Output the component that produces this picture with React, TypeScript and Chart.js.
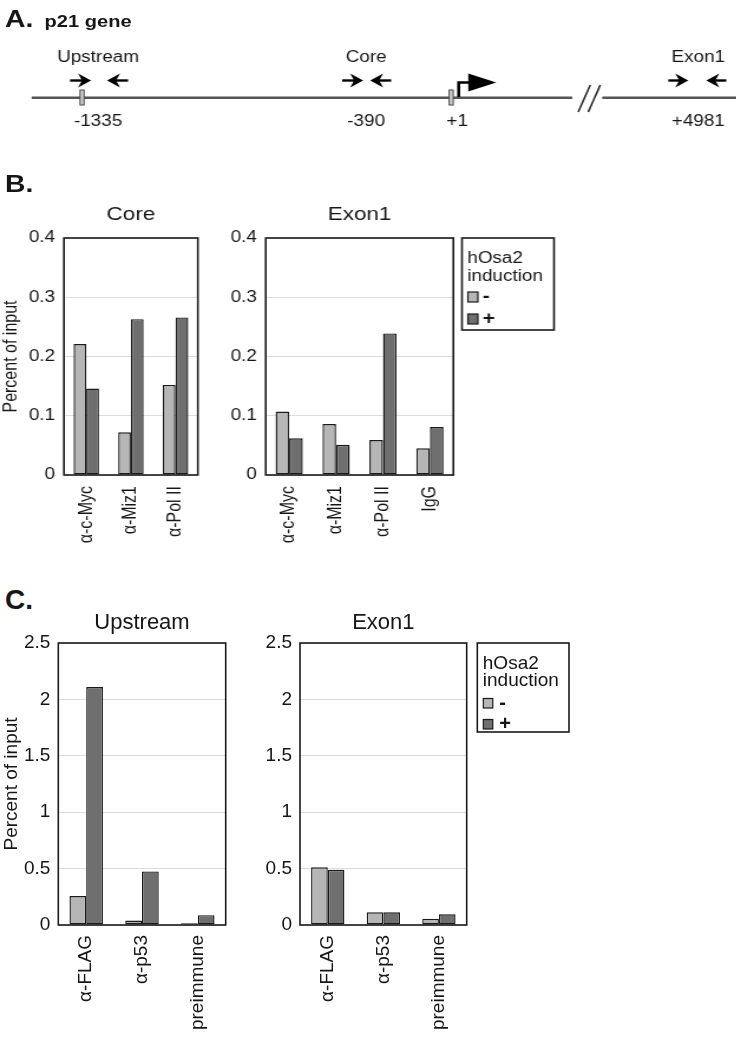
import React, { useEffect, useRef } from 'react';
import { Chart, registerables } from 'chart.js';

Chart.register(...registerables);

const FONT = '"Liberation Sans", Arial, Helvetica, sans-serif';
const TEXT = '#161616';
const GRID = '#dcdcdc';
const LIGHT = '#b6b6b6';
const DARK = '#6f6f6f';
const EDGE = '#1a1a1a';
const SX = 1.18; // panels A and B are horizontally stretched in the figure
const PAGE_W = 736;
const INNER_W = PAGE_W / SX;

// ---------- Panel A: p21 gene schematic ----------
const primerNames = ['Upstream', 'Core', 'Exon1'];
const primerCoords = ['-1335', '-390', '+4981'];
const tssLabel = '+1';

// ---------- Legend ----------
const legendTitle = ['hOsa2', 'induction'];
const legendSigns = ['-', '+'];

// ---------- Panel B data (percent of input) ----------
const bCoreCategories = ['α-c-Myc', 'α-Miz1', 'α-Pol II'];
const bCoreMinus = [0.221, 0.072, 0.152];
const bCorePlus = [0.146, 0.263, 0.266];

const bExon1Categories = ['α-c-Myc', 'α-Miz1', 'α-Pol II', 'IgG'];
const bExon1Minus = [0.107, 0.086, 0.059, 0.045];
const bExon1Plus = [0.062, 0.051, 0.239, 0.081];

// ---------- Panel C data ----------
const cCategories = ['α-FLAG', 'α-p53', 'preimmune'];
const cUpstreamMinus = [0.257, 0.04, 0.016];
const cUpstreamPlus = [2.11, 0.475, 0.087];
const cExon1Minus = [0.511, 0.112, 0.056];
const cExon1Plus = [0.489, 0.112, 0.095];

const bTicksMax = 0.4;
const bTickStep = 0.1;
const cTicksMax = 2.5;
const cTickStep = 0.5;

const framePlugin: any = {
  id: 'frame',
  afterDraw(chart: any, _args: any, o: any) {
    const { ctx, chartArea: a } = chart;
    ctx.save();
    ctx.strokeStyle = EDGE;
    ctx.lineWidth = 1.6;
    ctx.strokeRect(a.left, a.top, a.right - a.left, a.bottom - a.top);
    ctx.fillStyle = TEXT;
    ctx.font = `${o.titleSize}px ${FONT}`;
    ctx.textAlign = 'center';
    ctx.textBaseline = 'alphabetic';
    ctx.fillText(o.title, (a.left + a.right) / 2, a.top - o.titleGap);
    const L = o.legend;
    if (L) {
      const lx = a.right + L.gap;
      const ly = a.top;
      ctx.lineWidth = 1.6;
      ctx.strokeStyle = EDGE;
      ctx.strokeRect(lx, ly, L.w, L.h);
      ctx.fillStyle = TEXT;
      ctx.font = `${L.size}px ${FONT}`;
      ctx.textAlign = 'left';
      ctx.fillText(legendTitle[0], lx + L.textX, ly + L.base[0]);
      ctx.fillText(legendTitle[1], lx + L.textX, ly + L.base[1]);
      const ds = chart.data.datasets;
      L.swY.forEach((dy: number, i: number) => {
        ctx.fillStyle = ds[i].backgroundColor;
        ctx.fillRect(lx + L.swX, ly + dy, L.swW, L.swH);
        ctx.lineWidth = 1.2;
        ctx.strokeStyle = EDGE;
        ctx.strokeRect(lx + L.swX, ly + dy, L.swW, L.swH);
        ctx.fillStyle = TEXT;
        ctx.font = `bold ${L.signSize}px ${FONT}`;
        ctx.textBaseline = 'middle';
        ctx.fillText(ds[i].label, lx + L.signX, ly + dy + L.swH / 2 + 0.5);
        ctx.textBaseline = 'alphabetic';
      });
    }
    ctx.restore();
  },
};

type Spec = {
  id: string;
  labels: string[];
  minus: number[];
  plus: number[];
  yMax: number;
  yStep: number;
  left: number;
  top: number;
  width: number;
  height: number;
  padTop: number;
  padRight: number;
  yWidth: number;
  xHeight: number;
  yTitle: string | null;
  title: string;
  titleGap: number;
  titleSize: number;
  fontSize: number;
  tickPad: number;
  legend: any;
  catPct: number;
  xPad: number;
};

const legendB = {
  gap: 7.3, w: 78, h: 92, size: 16, textX: 4.5, base: [24.5, 42.5],
  swX: 5, swW: 8.5, swH: 10, swY: [54, 76], signX: 17.5, signSize: 18,
};
const legendC = {
  gap: 10.6, w: 91.7, h: 89, size: 19, textX: 5.5, base: [25.5, 43],
  swX: 6, swW: 9.5, swH: 9.5, swY: [55.5, 76.5], signX: 22, signSize: 20,
};

// Panel B lives in the horizontally stretched layer (unstretched units)
const specsB: Spec[] = [
  {
    id: 'bcore', labels: bCoreCategories, minus: bCoreMinus, plus: bCorePlus,
    yMax: bTicksMax, yStep: bTickStep,
    left: 0, top: 190, width: 180, height: 370, padTop: 48, padRight: 6.3,
    yWidth: 54.2, xHeight: 85, yTitle: 'Percent of input', title: 'Core', titleGap: 18,
    titleSize: 19, fontSize: 16, tickPad: 7.5, legend: null, catPct: 0.57, xPad: 11,
  },
  {
    id: 'bexon1', labels: bExon1Categories, minus: bExon1Minus, plus: bExon1Plus,
    yMax: bTicksMax, yStep: bTickStep,
    left: 185, top: 190, width: 295, height: 370, padTop: 48, padRight: 95.8,
    yWidth: 40.2, xHeight: 85, yTitle: null, title: 'Exon1', titleGap: 18,
    titleSize: 19, fontSize: 16, tickPad: 7.5, legend: legendB, catPct: 0.58, xPad: 11,
  },
];

// Panel C is not stretched (page units)
const specsC: Spec[] = [
  {
    id: 'cup', labels: cCategories, minus: cUpstreamMinus, plus: cUpstreamPlus,
    yMax: cTicksMax, yStep: cTickStep,
    left: 0, top: 600, width: 236, height: 450, padTop: 43, padRight: 10.3,
    yWidth: 58.3, xHeight: 125, yTitle: 'Percent of input', title: 'Upstream', titleGap: 14,
    titleSize: 22, fontSize: 19, tickPad: 8, legend: null, catPct: 0.6, xPad: 10,
  },
  {
    id: 'cexon1', labels: cCategories, minus: cExon1Minus, plus: cExon1Plus,
    yMax: cTicksMax, yStep: cTickStep,
    left: 240, top: 600, width: 340, height: 450, padTop: 43, padRight: 113.3,
    yWidth: 60, xHeight: 125, yTitle: null, title: 'Exon1', titleGap: 14,
    titleSize: 22, fontSize: 19, tickPad: 8, legend: legendC, catPct: 0.6, xPad: 10,
  },
];

function makeConfig(s: Spec): any {
  const tickFont = { size: s.fontSize, family: FONT };
  const ds = (label: string, data: number[], color: string) => ({
    label, data, backgroundColor: color, borderColor: EDGE, borderWidth: 1.4,
    borderSkipped: false, categoryPercentage: s.catPct, barPercentage: 1,
  });
  return {
    type: 'bar',
    data: {
      labels: s.labels,
      datasets: [ds(legendSigns[0], s.minus, LIGHT), ds(legendSigns[1], s.plus, DARK)],
    },
    options: {
      animation: false,
      responsive: false,
      events: [],
      layout: { padding: { top: s.padTop, right: s.padRight, left: 0, bottom: 0 } },
      plugins: {
        legend: { display: false },
        tooltip: { enabled: false },
        frame: { title: s.title, titleGap: s.titleGap, titleSize: s.titleSize, legend: s.legend },
      },
      scales: {
        x: {
          grid: { display: false, drawTicks: false },
          border: { display: false },
          ticks: {
            autoSkip: false, minRotation: 90, maxRotation: 90, padding: s.xPad,
            color: TEXT, font: tickFont,
          },
          afterFit: (sc: any) => { sc.height = s.xHeight; },
        },
        y: {
          min: 0,
          max: s.yMax,
          border: { display: false },
          grid: { color: GRID, lineWidth: 1, drawTicks: false },
          ticks: {
            stepSize: s.yStep, padding: s.tickPad, color: TEXT, font: tickFont,
            callback: (v: any) => String(Number(Number(v).toFixed(2))),
          },
          title: s.yTitle
            ? { display: true, text: s.yTitle, color: TEXT, font: tickFont, padding: 0 }
            : { display: false },
          afterFit: (sc: any) => { sc.width = s.yWidth; },
        },
      },
    },
    plugins: [framePlugin],
  };
}

function BarCanvas({ spec }: { spec: Spec }) {
  const ref = useRef<HTMLCanvasElement>(null);
  useEffect(() => {
    const chart = new Chart(ref.current as HTMLCanvasElement, makeConfig(spec));
    return () => chart.destroy();
  }, []);
  return (
    <canvas
      ref={ref}
      width={spec.width}
      height={spec.height}
      style={{ position: 'absolute', left: spec.left, top: spec.top }}
    />
  );
}

// schematic geometry in page coordinates (mapped through the chart's linear scales)
const lineSegments = [[31.7, 572], [602, 736]];
const lineY = 97.7;
const siteMarkers = [82, 451];
const primerLabelX = [98, 366, 698];
const primerFwd = [[70, 91], [342, 363], [668, 688]];
const primerRev = [[128, 107], [391, 370], [726, 706]];
const tssX = 457;

const schematicPlugin: any = {
  id: 'schematic',
  afterDraw(chart: any) {
    const { ctx, scales } = chart;
    const X = (v: number) => scales.x.getPixelForValue(v);
    const Y = (v: number) => scales.y.getPixelForValue(v);
    ctx.save();
    ctx.strokeStyle = '#555';
    ctx.lineWidth = 2.4;
    lineSegments.forEach(([a, b]) => {
      ctx.beginPath();
      ctx.moveTo(X(a), Y(lineY));
      ctx.lineTo(X(b), Y(lineY));
      ctx.stroke();
    });
    ctx.strokeStyle = '#222';
    ctx.lineWidth = 1.5;
    [[578, 112, 590, 85], [588, 112, 600, 85]].forEach(([x0, y0, x1, y1]) => {
      ctx.beginPath();
      ctx.moveTo(X(x0), Y(y0));
      ctx.lineTo(X(x1), Y(y1));
      ctx.stroke();
    });
    siteMarkers.forEach((m) => {
      ctx.fillStyle = '#d0d0d0';
      ctx.fillRect(X(m - 2), Y(90), X(m + 2) - X(m - 2), Y(105) - Y(90));
      ctx.strokeStyle = '#444';
      ctx.lineWidth = 1;
      ctx.strokeRect(X(m - 2), Y(90), X(m + 2) - X(m - 2), Y(105) - Y(90));
    });
    ctx.strokeStyle = '#000';
    ctx.lineWidth = 2.6;
    ctx.beginPath();
    ctx.moveTo(X(458.5), Y(97));
    ctx.lineTo(X(458.5), Y(82.5));
    ctx.lineTo(X(471), Y(82.5));
    ctx.stroke();
    ctx.fillStyle = '#000';
    ctx.beginPath();
    ctx.moveTo(X(468), Y(73.5));
    ctx.lineTo(X(496), Y(82.5));
    ctx.lineTo(X(468), Y(91.5));
    ctx.closePath();
    ctx.fill();
    const arrow = (x0: number, x1: number, y: number) => {
      const d = Math.sign(x1 - x0);
      ctx.strokeStyle = '#000';
      ctx.lineWidth = 2.4;
      ctx.beginPath();
      ctx.moveTo(X(x0), Y(y));
      ctx.lineTo(X(x1 - d * 6), Y(y));
      ctx.stroke();
      ctx.beginPath();
      ctx.moveTo(X(x1), Y(y));
      ctx.lineTo(X(x1 - d * 13), Y(y - 7));
      ctx.lineTo(X(x1 - d * 9), Y(y));
      ctx.lineTo(X(x1 - d * 13), Y(y + 7));
      ctx.closePath();
      ctx.fill();
    };
    primerFwd.forEach(([a, b]) => arrow(a, b, 80.5));
    primerRev.forEach(([a, b]) => arrow(a, b, 80.5));
    ctx.fillStyle = TEXT;
    ctx.font = `16px ${FONT}`;
    ctx.textAlign = 'center';
    ctx.textBaseline = 'alphabetic';
    primerNames.forEach((n, i) => ctx.fillText(n, X(primerLabelX[i]), Y(61.5)));
    primerCoords.forEach((n, i) => ctx.fillText(n, X(primerLabelX[i]), Y(126)));
    ctx.fillText(tssLabel, X(tssX), Y(126));
    ctx.restore();
  },
};

function SchematicCanvas() {
  const ref = useRef<HTMLCanvasElement>(null);
  useEffect(() => {
    const chart = new Chart(ref.current as HTMLCanvasElement, {
      type: 'scatter',
      data: { datasets: [] },
      options: {
        animation: false,
        responsive: false,
        events: [],
        layout: { padding: 0 },
        plugins: { legend: { display: false }, tooltip: { enabled: false } },
        scales: {
          x: { type: 'linear', display: false, min: 0, max: PAGE_W },
          y: { type: 'linear', display: false, min: 0, max: 140, reverse: true },
        },
      },
      plugins: [schematicPlugin],
    } as any);
    return () => chart.destroy();
  }, []);
  return (
    <canvas
      ref={ref}
      width={Math.round(INNER_W)}
      height={140}
      style={{ position: 'absolute', left: 0, top: 0 }}
    />
  );
}

export default function App() {
  return (
    <div
      style={{
        position: 'absolute', left: 0, top: 0, width: PAGE_W, height: 1050,
        overflow: 'hidden', background: '#fff', fontFamily: FONT, color: TEXT,
      }}
    >
      <div
        style={{
          position: 'absolute', left: 0, top: 0, width: INNER_W, height: 580,
          transform: `scaleX(${SX})`, transformOrigin: '0 0',
        }}
      >
        <SchematicCanvas />
        <div style={{ position: 'absolute', left: 4.2, top: 6.7, font: `bold 24px/24px ${FONT}` }}>A.</div>
        <div style={{ position: 'absolute', left: 37.8, top: 12.6, font: `bold 17px/17px ${FONT}`, whiteSpace: 'nowrap' }}>
          p21 gene
        </div>
        <div style={{ position: 'absolute', left: 4.2, top: 172, font: `bold 24px/24px ${FONT}` }}>B.</div>
        {specsB.map((s) => (
          <BarCanvas key={s.id} spec={s} />
        ))}
      </div>
      <div style={{ position: 'absolute', left: 5, top: 586, font: `bold 28px/28px ${FONT}` }}>C.</div>
      {specsC.map((s) => (
        <BarCanvas key={s.id} spec={s} />
      ))}
    </div>
  );
}
